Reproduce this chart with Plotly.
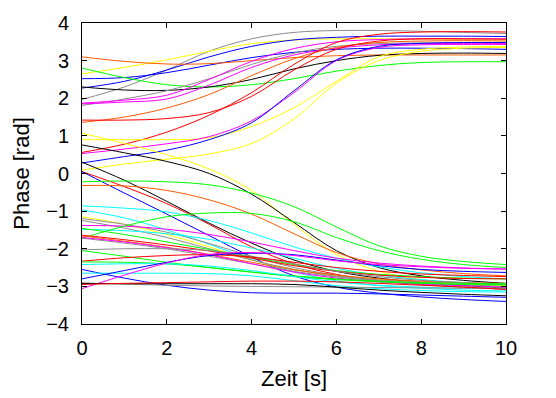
import plotly.graph_objects as go

t = [0, 1, 2, 3, 4, 5, 6, 7, 8, 9, 10]

# upper group (phases converging near +pi)
gray_a    = [1.97, 2.30, 2.75, 3.25, 3.58, 3.75, 3.80, 3.80, 3.78, 3.75, 3.72]
yellow_a  = [2.65, 2.82, 3.02, 3.25, 3.45, 3.55, 3.58, 3.58, 3.57, 3.56, 3.55]
blue_a    = [2.27, 2.45, 2.75, 3.10, 3.38, 3.55, 3.62, 3.65, 3.65, 3.65, 3.64]
blue_b    = [2.52, 2.55, 2.68, 2.88, 3.08, 3.22, 3.30, 3.33, 3.33, 3.32, 3.30]
orange_a  = [3.10, 2.98, 2.91, 2.92, 3.00, 3.08, 3.13, 3.15, 3.15, 3.15, 3.15]
green_a   = [2.80, 2.55, 2.36, 2.30, 2.36, 2.52, 2.72, 2.87, 2.95, 2.97, 2.97]
black_a   = [2.30, 2.22, 2.21, 2.30, 2.50, 2.78, 3.00, 3.14, 3.19, 3.20, 3.19]
gray_b    = [1.81, 1.98, 2.20, 2.52, 2.90, 3.20, 3.38, 3.45, 3.47, 3.47, 3.46]
magenta_a = [1.87, 1.95, 2.08, 2.50, 2.98, 3.32, 3.50, 3.56, 3.58, 3.58, 3.58]
magenta_b = [1.85, 1.90, 1.98, 2.35, 2.82, 3.15, 3.33, 3.42, 3.45, 3.46, 3.46]
orange_b  = [1.36, 1.50, 1.74, 2.10, 2.60, 3.05, 3.35, 3.48, 3.52, 3.53, 3.52]
red_a     = [1.42, 1.42, 1.46, 1.62, 2.05, 2.75, 3.30, 3.52, 3.58, 3.58, 3.57]
red_b     = [0.56, 0.78, 1.10, 1.55, 2.15, 2.90, 3.48, 3.70, 3.76, 3.77, 3.76]
yellow_b  = [0.90, 0.90, 0.90, 0.95, 1.25, 1.75, 2.45, 3.10, 3.30, 3.36, 3.38]
magenta_c = [0.53, 0.65, 0.79, 0.98, 1.40, 2.15, 3.00, 3.35, 3.42, 3.43, 3.43]
blue_c    = [0.28, 0.45, 0.62, 0.90, 1.35, 2.20, 3.02, 3.38, 3.46, 3.48, 3.48]
yellow_c  = [0.09, 0.25, 0.38, 0.52, 0.80, 1.45, 2.40, 3.00, 3.25, 3.33, 3.35]

# lower group (phases converging near -pi)
yellow_d  = [1.07, 0.80, 0.50, 0.12, -0.45, -1.35, -2.15, -2.60, -2.82, -2.92, -2.98]
black_b   = [0.76, 0.55, 0.32, 0.00, -0.55, -1.30, -2.05, -2.50, -2.72, -2.84, -2.92]
black_c   = [0.30, -0.18, -0.74, -1.32, -1.85, -2.30, -2.60, -2.78, -2.90, -2.98, -3.05]
red_s     = [0.05, -0.35, -0.80, -1.35, -1.95, -2.40, -2.68, -2.85, -2.95, -3.02, -3.08]
blue_s    = [0.05, -0.52, -1.08, -1.65, -2.22, -2.72, -3.02, -3.18, -3.28, -3.35, -3.40]
green_e   = [-0.22, -0.20, -0.22, -0.30, -0.52, -0.88, -1.42, -1.92, -2.20, -2.34, -2.42]
orange_e  = [-0.32, -0.33, -0.45, -0.70, -1.08, -1.60, -2.10, -2.40, -2.56, -2.66, -2.72]
cyan_a    = [-0.86, -0.92, -1.02, -1.25, -1.58, -1.95, -2.25, -2.48, -2.64, -2.74, -2.80]
cyan_b    = [-0.97, -1.18, -1.50, -1.88, -2.28, -2.62, -2.85, -2.98, -3.05, -3.10, -3.12]
yellow_e  = [-1.15, -1.35, -1.62, -1.95, -2.30, -2.55, -2.72, -2.82, -2.90, -2.96, -3.00]
gray_c    = [-1.20, -1.35, -1.56, -1.86, -2.20, -2.50, -2.70, -2.84, -2.94, -3.00, -3.05]
gray_d    = [-1.25, -1.45, -1.70, -2.00, -2.30, -2.55, -2.73, -2.83, -2.88, -2.92, -2.95]
cyan_c    = [-1.48, -1.52, -1.60, -1.75, -1.98, -2.25, -2.52, -2.70, -2.82, -2.90, -2.95]
magenta_d = [-1.38, -1.40, -1.48, -1.62, -1.82, -2.05, -2.25, -2.38, -2.46, -2.51, -2.54]
green_g   = [-1.46, -1.62, -1.82, -2.02, -2.22, -2.42, -2.58, -2.68, -2.74, -2.78, -2.80]
green_f   = [-1.72, -1.40, -1.15, -1.05, -1.06, -1.28, -1.70, -2.05, -2.28, -2.42, -2.50]
red_c     = [-1.64, -1.76, -1.90, -2.06, -2.25, -2.45, -2.60, -2.70, -2.76, -2.79, -2.80]
orange_c  = [-1.66, -1.80, -1.96, -2.15, -2.36, -2.56, -2.70, -2.80, -2.86, -2.90, -2.92]
gray_e    = [-1.72, -1.85, -2.00, -2.20, -2.40, -2.60, -2.75, -2.85, -2.92, -2.96, -3.00]
magenta_e = [-1.70, -1.82, -1.97, -2.16, -2.40, -2.62, -2.78, -2.88, -2.94, -2.98, -3.02]
gray_f    = [-2.03, -2.00, -2.00, -2.05, -2.20, -2.40, -2.60, -2.74, -2.84, -2.90, -2.94]
green_h   = [-2.05, -2.20, -2.36, -2.50, -2.62, -2.72, -2.80, -2.86, -2.90, -2.92, -2.93]
red_d     = [-2.33, -2.24, -2.18, -2.16, -2.22, -2.36, -2.50, -2.60, -2.67, -2.71, -2.74]
green_i   = [-2.35, -2.36, -2.40, -2.50, -2.62, -2.74, -2.82, -2.88, -2.92, -2.95, -2.96]
cyan_d    = [-2.42, -2.40, -2.40, -2.46, -2.58, -2.74, -2.88, -2.97, -3.02, -3.05, -3.06]
blue_d    = [-2.55, -2.78, -2.97, -3.10, -3.17, -3.18, -3.18, -3.20, -3.23, -3.26, -3.29]
cyan_e    = [-2.65, -2.65, -2.65, -2.66, -2.72, -2.85, -2.98, -3.06, -3.11, -3.14, -3.15]
blue_e    = [-2.80, -2.58, -2.36, -2.18, -2.12, -2.16, -2.30, -2.45, -2.55, -2.60, -2.63]
magenta_f = [-3.06, -2.70, -2.38, -2.15, -2.10, -2.18, -2.32, -2.42, -2.48, -2.52, -2.54]
gray_g    = [-2.91, -2.94, -2.97, -2.99, -3.00, -3.01, -3.02, -3.03, -3.04, -3.05, -3.06]
black_h   = [-2.92, -2.93, -2.93, -2.93, -2.93, -2.95, -3.02, -3.10, -3.16, -3.21, -3.25]
red_e     = [-2.95, -2.92, -2.90, -2.88, -2.86, -2.86, -2.88, -2.92, -2.97, -3.02, -3.08]

x_ticks = [0, 2, 4, 6, 8, 10]
y_ticks = [-4, -3, -2, -1, 0, 1, 2, 3, 4]
y_tick_text = ["\u22124", "\u22123", "\u22122", "\u22121", "0", "1", "2", "3", "4"]

RED, GREEN, BLUE, MAG = "#ff0000", "#00ff00", "#0000ff", "#ff00ff"
CYAN, YEL, BLK, ORA, GRY = "#00ffff", "#ffff00", "#000000", "#ff5a00", "#8c8c8c"

series = [
    (gray_a, GRY), (yellow_a, YEL), (blue_a, BLUE), (blue_b, BLUE), (orange_a, ORA),
    (green_a, GREEN), (black_a, BLK), (gray_b, GRY), (magenta_a, MAG), (magenta_b, MAG),
    (orange_b, ORA), (red_a, RED), (red_b, RED), (yellow_b, YEL), (magenta_c, MAG),
    (blue_c, BLUE), (yellow_c, YEL),
    (yellow_d, YEL), (black_b, BLK), (black_c, BLK), (red_s, RED), (blue_s, BLUE),
    (green_e, GREEN), (orange_e, ORA), (cyan_a, CYAN), (cyan_b, CYAN), (yellow_e, YEL),
    (gray_c, GRY), (gray_d, GRY), (cyan_c, CYAN), (magenta_d, MAG), (green_g, GREEN),
    (green_f, GREEN), (red_c, RED), (orange_c, ORA), (gray_e, GRY), (magenta_e, MAG),
    (gray_f, GRY), (green_h, GREEN), (red_d, RED), (green_i, GREEN), (cyan_d, CYAN),
    (blue_d, BLUE), (cyan_e, CYAN), (blue_e, BLUE), (magenta_f, MAG), (gray_g, GRY),
    (black_h, BLK), (red_e, RED),
]

fig = go.Figure()
for vals, col in series:
    fig.add_trace(go.Scatter(x=t, y=vals, mode="lines",
                             line=dict(color=col, width=1, shape="spline", smoothing=1.0),
                             showlegend=False, hoverinfo="skip"))

font_family = "Liberation Sans, Arial, sans-serif"
axis_common = dict(showgrid=False, zeroline=False, showline=True, linecolor="black",
                   linewidth=1, mirror="allticks", ticks="inside", ticklen=5,
                   tickcolor="black", tickwidth=1,
                   tickfont=dict(family=font_family, size=20, color="black"))

fig.update_layout(
    width=556, height=398, autosize=False,
    margin=dict(l=82, r=50, t=17, b=72),
    paper_bgcolor="white", plot_bgcolor="white",
    xaxis=dict(range=[0, 10], tickvals=x_ticks, ticktext=[str(v) for v in x_ticks],
               ticklabelstandoff=6,
               title=dict(text="Zeit [s]", font=dict(family=font_family, size=22, color="black"),
                          standoff=12), **axis_common),
    yaxis=dict(range=[-4, 4], tickvals=y_ticks, ticktext=y_tick_text,
               ticklabelstandoff=8,
               title=dict(text="Phase [rad]", font=dict(family=font_family, size=22, color="black"),
                          standoff=10), **axis_common),
)

fig.write_html("out.html")
